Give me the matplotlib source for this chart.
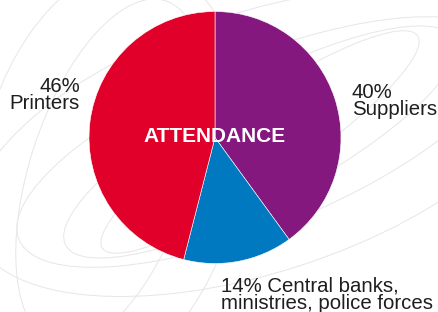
import numpy as np
import matplotlib.pyplot as plt
from matplotlib.patches import Ellipse

# Attendance shares
labels = ["Suppliers", "Central banks,\nministries, police forces", "Printers"]
shares = [40, 14, 46]
colors = ["#84187f", "#0079c1", "#e0002a"]

W, H = 439, 312
fig = plt.figure(figsize=(W / 100, H / 100), dpi=100)
ax = fig.add_axes([0, 0, 1, 1])

# faint decorative background curves
for w, h, ang in [(520, 170, 22), (440, 120, 28), (600, 260, 18), (380, 80, 34)]:
    ax.add_patch(Ellipse((260, 170), w, h, angle=ang, fill=False,
                         ec="#e6e6e6", lw=0.7, zorder=0))
for w, h, ang in [(260, 420, -12), (160, 360, -18)]:
    ax.add_patch(Ellipse((110, 140), w, h, angle=ang, fill=False,
                         ec="#e6e6e6", lw=0.7, zorder=0))

cx, cy, r = 215, H - 137.5, 126
ax.pie(shares, colors=colors, startangle=90, counterclock=False,
       center=(cx, cy), radius=r, frame=True,
       wedgeprops=dict(edgecolor="white", linewidth=0.4))
ax.set_xlim(0, W)
ax.set_ylim(0, H)
ax.set_aspect("equal")
ax.axis("off")

font = "Liberation Sans"
ax.text(cx, cy + 1, "ATTENDANCE", color="white", fontsize=15, fontweight="bold",
        family=font, ha="center", va="center", zorder=5)

size = 14.7
ax.text(80, H - 95, f"{shares[2]}%\n{labels[2]}", ha="right", va="center",
        fontsize=size, family=font, color="#1e1e1e", linespacing=0.92)
ax.text(352, H - 101, f"{shares[0]}%\n{labels[0]}", ha="left", va="center",
        fontsize=size, family=font, color="#1e1e1e", linespacing=0.92)
ax.text(221, H - 276, f"{shares[1]}% {labels[1]}", ha="left", va="top",
        fontsize=size, family=font, color="#1e1e1e", linespacing=0.95)

fig.savefig("out.png", dpi=100)
